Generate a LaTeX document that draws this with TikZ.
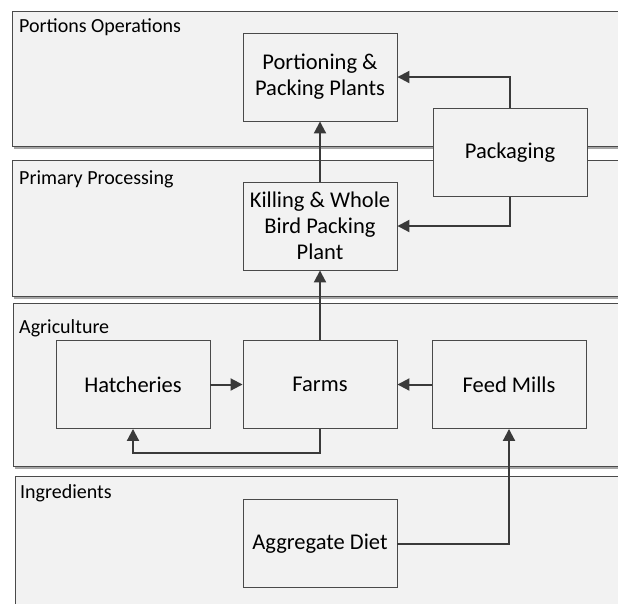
\documentclass[tikz,border=0pt]{standalone}
\usepackage{fontspec}
\setmainfont{Carlito}
\usetikzlibrary{arrows.meta,shadows}
\definecolor{bandfill}{HTML}{F2F2F2}
\definecolor{edgegray}{HTML}{4A4A4A}
\definecolor{linkgray}{HTML}{3A3A3A}
\tikzset{
  band/.style={draw=edgegray, line width=1pt, fill=bandfill,
    drop shadow={shadow xshift=2pt, shadow yshift=-3pt, fill=black!35, opacity=1}},
  bandlabel/.style={anchor=base west, inner sep=0pt, font=\fontsize{20}{24}\selectfont},
  unit/.style={draw=edgegray, line width=0.9pt, fill=bandfill, minimum width=154pt,
    minimum height=88pt, align=center, inner sep=2pt, font=\fontsize{22.5}{26}\selectfont},
  link/.style={draw=linkgray, line width=2pt, -{Triangle[length=12pt,width=12pt]}}
}
\begin{document}
\begin{tikzpicture}[x=1pt,y=-1pt]
    \useasboundingbox (0,0) rectangle (618,603);
    \fill[white] (0,0) rectangle (618,603);
    \clip (0,0) rectangle (618,603);

    % Bands
    \draw[band] (12,11) rectangle (640,146);
    \draw[band] (12,160) rectangle (640,296);
    \draw[band] (13,303) rectangle (640,466);
    \draw[band] (15,476) rectangle (640,620);
    \node[bandlabel] (lblportion) at (19,32) {Portions Operations};
    \node[bandlabel] (lblprimary) at (19,184) {Primary Processing};
    \node[bandlabel] (lblagri) at (19,333) {Agriculture};
    \node[bandlabel] (lblingr) at (20,498) {Ingredients};

    % Units
    \node[unit] (portion) at (320,77) {Portioning \&\\Packing Plants};
    \node[unit] (kill) at (320,226) {Killing \& Whole\\Bird Packing\\Plant};
    \node[unit] (pack) at (510,152.5) {Packaging};
    \node[unit] (hatch) at (133,384.5) {Hatcheries};
    \node[unit] (farms) at (320,384.5) {Farms};
    \node[unit] (feed) at (509,384.5) {Feed Mills};
    \node[unit] (diet) at (320,543.5) {Aggregate Diet};

    % Flows
    \draw[link] (farms.north) -- (kill.south);
    \draw[link] (kill.north) -- (portion.south);
    \draw[link] (pack.north) |- (portion.east);
    \draw[link] (pack.south) |- (kill.east);
    \draw[link] (hatch.east) -- (farms.west);
    \draw[link] (feed.west) -- (farms.east);
    \draw[link] (farms.south) -- ++(0,24) -| (hatch.south);
    \draw[link] (diet.east) -| (feed.south);
\end{tikzpicture}
\end{document}
